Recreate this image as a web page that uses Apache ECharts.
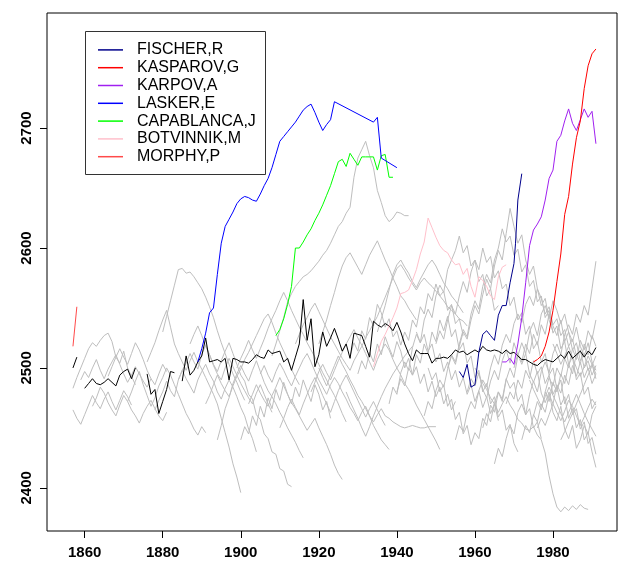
<!DOCTYPE html>
<html><head><meta charset="utf-8">
<script src="https://cdn.jsdelivr.net/npm/echarts@6/dist/echarts.min.js"></script>
<style>html,body{margin:0;padding:0;background:#fff}#c{width:618px;height:569px}</style>
</head><body><div id="c"></div>
<script>
// ---- axis ticks ----
const xTicks = [1860, 1880, 1900, 1920, 1940, 1960, 1980];
const yTicks = [2400, 2500, 2600, 2700];

// ---- highlighted players: [year, rating] ----
const fischer = [[1956,2497],[1957,2492],[1958,2503],[1959,2484],[1960,2486],[1961,2513],[1962,2528],[1963,2531],[1964,2527],[1965,2523],[1966,2544],[1967,2552],[1968,2552],[1969,2571],[1970,2587],[1970.4,2604],[1971,2640],[1972,2662]];
const kasparov = [[1975,2505],[1976,2507],[1977,2510],[1978,2518],[1979,2530],[1980,2548],[1981,2572],[1982,2595],[1983,2628],[1984,2643],[1985,2670],[1986,2692],[1987,2706],[1988,2733],[1989,2752],[1990,2762],[1991,2766]];
const karpov = [[1967,2505],[1968,2505],[1969,2508],[1970,2503],[1971,2520],[1972,2542],[1973,2571],[1974,2602],[1975,2615],[1976,2620],[1977,2626],[1978,2640],[1979,2658],[1980,2665],[1981,2689],[1982,2694],[1983,2706],[1984,2716],[1985,2704],[1986,2698],[1987,2707],[1988,2716],[1989,2709],[1990,2714],[1991,2687]];
const lasker = [[1889,2505],[1890,2516],[1891,2529],[1892,2546],[1893,2550],[1894,2578],[1895,2604],[1896,2618],[1897,2624],[1898,2630],[1899,2637],[1900,2641],[1901,2643],[1902,2642],[1903,2640],[1904,2639],[1905,2645],[1906,2652],[1907,2658],[1908,2667],[1909,2678],[1910,2689],[1911,2693],[1912,2697],[1913,2701],[1914,2705],[1915,2710],[1916,2715],[1917,2718],[1918,2720],[1919,2713],[1920,2705],[1921,2698],[1922,2703],[1923,2707],[1924,2722],[1934,2705],[1935,2709],[1936,2675],[1940,2667]];
const capablanca = [[1909,2527],[1910,2532],[1911,2541],[1912,2553],[1913,2568],[1914,2600],[1915,2600],[1916,2605],[1917,2611],[1918,2616],[1919,2623],[1920,2629],[1921,2636],[1922,2644],[1923,2652],[1924,2662],[1925,2672],[1926,2674],[1927,2668],[1928,2679],[1929,2674],[1930,2669],[1931,2676],[1932,2676],[1933,2676],[1934,2676],[1935,2665],[1936,2677],[1937,2678],[1938,2659],[1939,2659]];
const botvinnik = [[1934,2501],[1935,2512],[1936,2522],[1937,2528],[1938,2535],[1939,2542],[1940,2550],[1941,2562],[1942,2563],[1943,2565],[1944,2573],[1945,2582],[1946,2595],[1947,2605],[1948,2625],[1949,2617],[1950,2609],[1951,2602],[1952,2598],[1953,2596],[1954,2590],[1955,2586],[1956,2587],[1957,2578],[1958,2583],[1959,2568],[1960,2559],[1961,2576],[1962,2573],[1963,2568],[1964,2560],[1965,2557],[1966,2576],[1967,2584],[1968,2586]];
const morphy = [[1857,2518],[1858,2551]];

// ---- black reference line, in segments ----
const blackSegments = [
 [[1857,2500],[1858,2509]],
 [[1860,2483],[1861,2487],[1862,2491],[1863,2487],[1864,2486],[1865,2488],[1866,2491],[1867,2488],[1868,2485],[1869,2494],[1870,2497],[1871,2499],[1872,2491],[1873,2500]],
 [[1876,2495],[1877,2478],[1878,2482],[1879,2462],[1880,2472],[1881,2482],[1882,2497],[1883,2496]],
 [[1885,2489],[1886,2510],[1887,2494],[1888,2498],[1889,2505],[1890,2510],[1891,2525],[1892,2505],[1893,2506],[1894,2507],[1895,2505],[1896,2508],[1897,2490],[1898,2508],[1899,2507],[1900,2505],[1901,2505],[1902,2504],[1903,2507],[1904,2511],[1905,2509],[1906,2508],[1907,2515],[1908,2512],[1909,2513],[1910,2514],[1911,2505],[1912,2508],[1913,2498],[1914,2509],[1915,2520],[1916,2557],[1917,2523],[1918,2541],[1919,2501],[1920,2511],[1921,2530],[1922,2518],[1923,2525],[1924,2533],[1925,2524],[1926,2514],[1927,2520],[1928,2508],[1929,2529],[1930,2528],[1931,2527],[1932,2518],[1933,2509],[1934,2539],[1935,2536],[1936,2534],[1937,2537],[1938,2535],[1939,2531],[1940,2538],[1941,2530],[1942,2520],[1943,2512],[1944,2506],[1945,2515],[1946,2512],[1947,2512],[1948,2512],[1949,2504],[1950,2508],[1951,2508],[1952,2509],[1953,2508],[1954,2511],[1955,2515],[1956,2513],[1957,2514],[1958,2511],[1959,2513],[1960,2515],[1961,2513],[1962,2518],[1963,2515],[1964,2514],[1965,2515],[1966,2514],[1967,2512],[1968,2515],[1969,2512],[1970,2513],[1971,2510],[1972,2507],[1973,2507],[1974,2505],[1975,2503],[1976,2502],[1977,2505],[1978,2507],[1979,2506],[1980,2505],[1981,2508],[1982,2511],[1983,2508],[1984,2514],[1985,2508],[1986,2511],[1987,2514],[1988,2509],[1989,2514],[1990,2511],[1991,2517]]
];

// ---- other players (grey): first year and yearly ratings ----
const greyStarts = [1857,1857,1859,1862,1866,1871,1880,1876,1878,1884,1887,1891,1894,1908,1899,1902,1905,1910,1914,1918,1920,1927,1928,1938,1940,1947,1948,1950,1960,1955,1958,1962,1965,1968,1970,1972,1975,1978,1935,1953,1976,1980,1974,1982,1920,1930,1945,1900];
const greyRatings = [
 [2483,2492,2500,2508,2516,2521,2518,2523,2527,2529,2522,2509,2504,2514,2500,2493,2486],
 [2465,2458,2453,2461,2469,2477,2471,2466,2474,2480,2472,2465,2473,2481,2476,2469],
 [2490,2497,2492,2500,2507,2498,2491,2499,2505,2511,2503,2495,2488,2494,2501,2495,2489,2484,2491],
 [2468,2475,2484,2479,2471,2465,2460,2469,2477,2472,2465,2460,2454,2462,2468,2473,2466,2460,2456,2463],
 [2493,2501,2509,2516,2509,2503,2512,2521,2515,2507,2498,2491,2486,2495,2503,2497],
 [2472,2480,2489,2497,2486,2477,2468,2475,2485,2492,2500,2494,2486,2478,2470,2462,2456,2449,2444,2451,2446],
 [2530,2543,2556,2569,2582,2583,2579,2580,2576,2571,2566,2559,2551,2542,2531,2521,2512,2503,2495,2488,2480,2473],
 [2505,2513,2521,2531,2540,2548,2534,2520,2512,2505,2498,2506,2513,2505,2499,2492,2485,2478,2470,2458,2446,2434,2420,2409,2396],
 [2465,2473,2480,2489,2481,2476,2490,2498,2491,2485,2479,2490,2497,2503,2495,2489,2480,2474,2483,2490,2484,2476,2467,2460,2449,2441,2430],
 [2490,2498,2504,2512,2505,2499,2511,2519,2511,2503,2497,2506,2514,2521,2512,2503,2494,2489,2478,2474,2461,2457,2445,2441,2430,2428,2416,2414,2403,2401],
 [2520,2528,2535,2527,2518,2511,2502,2495,2490,2500,2508,2501,2494,2487,2481,2475,2470,2479,2486,2478,2470,2463],
 [2470,2477,2486,2494,2487,2481,2476,2485,2493,2499,2507,2513,2520,2527,2534,2541,2545,2538,2529,2521,2514,2507,2499,2492,2486],
 [2440,2452,2466,2475,2487,2495,2502,2495,2489,2498,2506,2497,2488,2481,2476,2470,2463,2457,2450,2444,2438,2431,2425],
 [2510,2520,2531,2542,2555,2562,2568,2572,2576,2578,2581,2585,2589,2594,2598,2604,2611,2618,2622,2629,2634,2659,2675,2682,2689,2677,2667,2648,2638,2627,2622,2625,2630,2629,2627,2627],
 [2500,2508,2515,2523,2515,2508,2516,2524,2533,2541,2548,2556,2563,2556,2548,2541,2534,2528,2521,2515,2509,2503,2496,2490,2483,2477,2470,2462,2455],
 [2470,2478,2486,2479,2473,2468,2477,2484,2492,2485,2478,2471,2466,2460,2454,2448,2453,2458,2450,2443,2436,2428,2419,2412,2407],
 [2495,2502,2494,2488,2497,2504,2498,2491,2485,2493,2500,2507,2512,2505,2497,2490,2484,2478,2486,2492,2487,2480,2474,2467,2462,2456,2463,2468,2460,2452,2446,2440,2436,2432],
 [2450,2458,2467,2474,2467,2461,2470,2478,2486,2492,2485,2477,2470,2463,2472,2481,2488,2494,2487,2480,2473,2466,2459,2466,2472,2465,2458,2452],
 [2520,2528,2536,2542,2549,2554,2547,2540,2533,2526,2520,2514,2508,2503,2498,2506,2512,2518,2525,2531,2537,2543,2551,2559,2567,2575,2583,2586,2581,2575,2570,2565,2571,2575,2571,2568,2564,2560,2556,2551,2548,2545,2541,2539,2535],
 [2480,2488,2497,2503,2496,2490,2498,2506,2513,2520,2526,2532,2525,2519,2512,2505,2498,2507,2514,2520,2515,2507,2500,2494,2487,2482,2476,2469,2463,2457,2451,2445,2439,2432],
 [2500,2492,2485,2494,2502,2510,2503,2497,2490,2484,2477,2472,2466,2460,2455,2461,2466,2460,2458,2455,2453,2451,2450,2451,2452,2451,2450,2450,2451,2451,2451],
 [2480,2472,2465,2458,2450,2443,2451,2460,2468,2476,2483,2489,2495,2500,2505,2510,2514,2518],
 [2510,2521,2514,2531,2524,2542,2535,2553,2546,2534,2541,2526,2531,2519,2530,2523,2540,2534,2551,2545,2562,2556,2570,2560,2564,2548,2553,2537,2541,2527],
 [2470,2484,2478,2496,2505,2498,2517,2528,2521,2540,2549,2542,2560,2569,2563,2582,2590,2598,2610,2596,2602,2585,2590,2572,2578,2560,2566,2548,2552],
 [2480,2491,2485,2500,2494,2511,2504,2520,2512,2530,2522,2540,2531,2543,2526,2532,2515,2521,2504,2510,2492,2498,2480,2487,2470,2476,2459,2465,2448,2453,2437,2430],
 [2460,2472,2466,2481,2490,2484,2499,2510,2503,2518,2530,2524,2540,2552,2545,2561,2574,2566,2585,2598,2590,2612,2633,2618,2604,2611,2590,2578,2585,2566,2552,2558,2540,2530],
 [2500,2490,2496,2480,2486,2468,2474,2457,2463,2445,2452,2436,2446,2441,2458,2452,2469,2463,2480,2474,2491,2483,2488,2472,2478,2461,2466,2450,2455,2441],
 [2520,2531,2524,2540,2552,2545,2560,2572,2563,2580,2590,2582,2600,2588,2593,2575,2581,2566,2570,2552,2559,2540,2546,2528,2535,2516,2522,2505,2512,2494,2500,2482,2490,2470,2478,2461,2466,2449,2455,2437,2442,2428],
 [2500,2494,2487,2482,2475,2470,2463,2470,2476,2469,2464,2457,2454,2449,2448,2451,2444,2440,2429,2410,2395,2384,2380,2384,2381,2385,2382,2386,2383,2382],
 [2440,2452,2447,2463,2472,2466,2481,2490,2484,2500,2511,2503,2519,2528,2521,2537,2545,2538,2553,2560,2552,2566,2558,2545,2551,2536,2541,2527,2532,2518,2524,2510,2515,2500,2506,2494,2502],
 [2480,2491,2485,2496,2482,2475,2489,2498,2490,2506,2515,2504,2521,2511,2503,2512,2495,2488,2497,2479,2471,2480,2463,2456,2468,2449,2441,2452,2433,2440,2452,2445,2461,2468],
 [2450,2462,2455,2471,2480,2472,2490,2500,2492,2510,2521,2512,2530,2538,2527,2545,2552,2541,2556,2548,2537,2545,2530,2522,2534,2518,2510,2521,2505,2498],
 [2420,2433,2426,2441,2452,2445,2463,2470,2461,2478,2489,2480,2497,2505,2496,2512,2520,2511,2528,2536,2528,2545,2538,2552,2544,2566,2589],
 [2470,2480,2474,2490,2483,2498,2491,2506,2495,2501,2487,2494,2478,2485,2469,2476,2458,2466,2450,2457,2440,2446,2430,2417],
 [2500,2512,2505,2520,2512,2528,2519,2536,2528,2545,2535,2527,2540,2522,2530,2515,2521,2506,2512,2498,2503,2491],
 [2440,2452,2446,2461,2455,2470,2463,2478,2470,2486,2479,2494,2486,2502,2493,2505,2492,2500,2487,2495],
 [2460,2472,2465,2480,2472,2488,2480,2495,2487,2503,2495,2512,2503,2520,2511,2527,2518],
 [2480,2492,2485,2500,2493,2508,2500,2516,2507,2523,2515,2531,2524,2540],
 [2530,2541,2552,2565,2578,2586,2590,2584,2579,2572,2567,2574,2580,2586,2590,2585,2578,2571,2566,2560,2556,2551,2546],
 [2500,2511,2505,2520,2532,2526,2545,2556,2549,2568,2578,2571,2590,2600,2616,2605,2610,2594,2599,2580,2586,2568,2573,2555,2560,2542,2548,2529,2535,2516,2522,2503,2509,2490,2496,2478,2484,2466,2472],
 [2450,2458,2452,2461,2470,2463,2456,2464,2473,2468,2460,2452,2459,2467,2474,2469],
 [2520,2512,2503,2510,2518,2509,2500,2493,2501,2510,2503,2495],
 [2490,2482,2475,2468,2476,2484,2477,2470,2462,2455,2463,2470,2478,2470,2462,2455,2449,2443],
 [2440,2447,2455,2462,2470,2478,2486,2494,2502,2510],
 [2520,2530,2540,2552,2563,2575,2585,2592,2596,2590,2584,2578,2586,2594,2600,2606,2598,2590,2583,2575,2568,2560,2556,2550,2545,2540],
 [2495,2506,2499,2513,2505,2520,2511,2526,2517,2509,2522,2514,2500,2508,2494,2501,2487,2495,2480,2489,2476,2484,2470,2478,2465,2472],
 [2530,2521,2528,2514,2520,2505,2512,2497,2505,2490,2498,2484,2492,2478,2486,2472,2481,2467,2476,2462,2470,2456],
 [2440,2451,2445,2460,2452,2468,2459,2475,2466,2482,2473,2488,2478,2470,2484,2476,2490,2481,2472,2486,2478,2465,2472,2458]
];

const players = [
  {name:'FISCHER,R', data:fischer, color:'#00008B'},
  {name:'KASPAROV,G', data:kasparov, color:'#FF0000'},
  {name:'KARPOV,A', data:karpov, color:'#A020F0'},
  {name:'LASKER,E', data:lasker, color:'#0000FF'},
  {name:'CAPABLANCA,J', data:capablanca, color:'#00FF00'},
  {name:'BOTVINNIK,M', data:botvinnik, color:'#FFC0CB'},
  {name:'MORPHY,P', data:morphy, color:'#FF4A4A'}
];

const series = [];
greyStarts.forEach((s, i) => {
  series.push({type:'line', name:'g'+i, data: greyRatings[i].map((v, k) => [s + k, v]),
    symbol:'none', silent:true, lineStyle:{color:'#BEBEBE', width:1}, z:1});
});
const blackData = [];
blackSegments.forEach((seg, i) => { if (i > 0) blackData.push([seg[0][0] - 0.5, null]); seg.forEach(p => blackData.push(p)); });
series.push({type:'line', name:'avg', data:blackData, connectNulls:false, symbol:'none', silent:true,
  lineStyle:{color:'#000', width:1}, z:2});
players.slice().reverse().forEach(p => {
  series.push({type:'line', name:p.name, data:p.data, symbol:'none', silent:true,
    lineStyle:{color:p.color, width:1}, itemStyle:{color:p.color}, z:3});
});

const plain = v => String(v);
const chart = echarts.init(document.getElementById('c'), null, {renderer:'canvas'});
chart.setOption({
  animation:false,
  backgroundColor:'#fff',
  grid:{left:47, right:1, top:13, bottom:38, show:true, borderColor:'#000', borderWidth:1},
  xAxis:{type:'value', min:1850.35, max:1996.4,
    axisLine:{show:false}, splitLine:{show:false},
    axisTick:{show:true, length:7, customValues:xTicks, lineStyle:{color:'#000', width:1}},
    axisLabel:{customValues:xTicks, formatter:plain, color:'#000', fontSize:15, fontWeight:'bold', fontFamily:'Liberation Sans', margin:14}},
  yAxis:{type:'value', min:2364, max:2796,
    axisLine:{show:false}, splitLine:{show:false},
    axisTick:{show:true, length:7, customValues:yTicks, lineStyle:{color:'#000', width:1}},
    axisLabel:{customValues:yTicks, formatter:plain, rotate:90, color:'#000', fontSize:15, fontWeight:'bold', fontFamily:'Liberation Sans', margin:13}},
  legend:{data:players.map(p => p.name), orient:'vertical', left:98, top:41, padding:0, itemGap:0,
    icon:'rect', itemWidth:25, itemHeight:1.5, selectedMode:false,
    textStyle:{fontSize:16, fontFamily:'Liberation Sans', color:'#000', lineHeight:17.8, padding:[0,0,0,9]}},
  graphic:[{type:'rect', shape:{x:85.5, y:31.5, width:180, height:143}, style:{fill:'none', stroke:'#333', lineWidth:1}, z:100}],
  series:series
});
</script></body></html>
